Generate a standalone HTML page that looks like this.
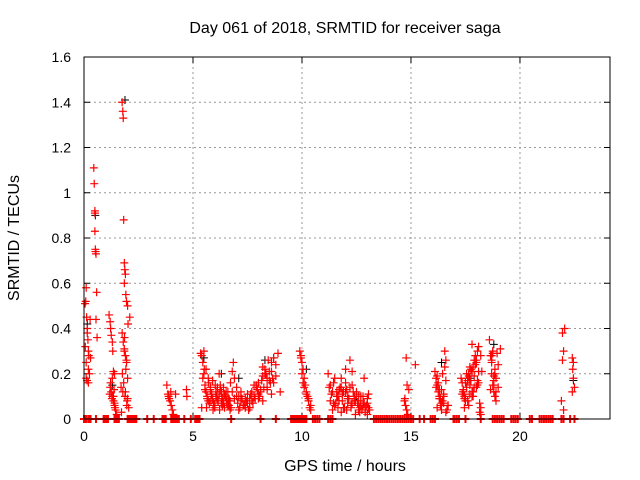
<!DOCTYPE html>
<html><head><meta charset="utf-8"><style>
body{margin:0;background:#fff}
svg{display:block;font-family:"Liberation Sans",sans-serif}
</style></head><body>
<svg id="chart" width="640" height="480" viewBox="0 0 640 480">
<text x="345" y="33" font-size="16" text-anchor="middle">Day 061 of 2018, SRMTID for receiver saga</text>
<text x="345" y="471" font-size="16" text-anchor="middle">GPS time / hours</text>
<text transform="translate(19,238) rotate(-90)" font-size="16" text-anchor="middle">SRMTID / TECUs</text>
<g id="grid"></g><g id="ticks"></g><g id="marks"></g>
<rect x="84" y="57" width="526" height="362" fill="none" stroke="#000" stroke-width="1"/>
</svg>
<script>
const xTicks=[0,5,10,15,20];
const yTicks=[0,0.2,0.4,0.6,0.8,1,1.2,1.4,1.6];
const yTickLabels=["0","0.2","0.4","0.6","0.8","1","1.2","1.4","1.6"];
const redTimes=[0.05,0.08,0.1,0.12,0.15,0.18,0.2,0.22,0.25,0.1,0.14,0.2,0.28,0.06,0.3,
0.45,0.47,0.5,0.5,0.52,0.53,0.55,0.5,0.58,0.55,0.6,
1.15,1.2,1.22,1.25,1.3,1.32,1.35,1.4,1.2,1.25,1.3,1.35,1.4,1.45,1.5,1.18,1.28,1.38,1.22,1.42,
1.75,1.78,1.8,1.82,1.85,1.87,1.9,1.85,1.92,1.95,2.0,2.02,1.75,1.8,1.85,1.9,1.95,2.0,1.7,1.78,1.88,1.98,2.05,1.72,1.82,1.92,2.1,1.76,1.86,1.96,
3.8,3.85,3.9,3.95,4.0,4.05,4.1,3.88,3.98,4.2,4.7,4.72,
5.35,5.4,5.45,5.5,5.55,5.6,5.65,5.7,5.4,5.5,5.6,5.7,5.8,5.85,5.9,5.95,6.0,6.05,6.1,6.15,6.2,6.25,6.3,6.35,6.4,6.45,6.5,6.55,6.6,6.65,6.7,5.8,5.9,6.0,6.1,6.2,6.3,6.4,6.5,6.6,6.7,6.8,6.9,7.0,
6.8,6.85,6.9,7.0,7.1,7.2,7.3,7.4,7.5,7.6,7.7,7.8,7.9,8.0,8.1,8.2,8.3,8.4,8.5,8.6,7.1,7.3,7.5,7.7,7.9,8.1,8.3,8.5,8.7,8.8,8.9,7.2,7.6,8.0,8.4,8.6,8.7,8.2,8.45,8.8,9.0,
9.9,9.95,10.0,10.05,10.1,10.15,10.2,10.25,10.3,10.35,10.4,10.0,10.1,10.2,10.3,10.4,9.95,10.05,
11.2,11.3,11.4,11.5,11.6,11.7,11.8,11.9,12.0,12.1,12.2,12.3,12.4,12.5,12.6,12.7,12.8,12.9,13.0,13.1,11.3,11.5,11.7,11.9,12.1,12.3,12.5,12.7,12.9,11.4,11.6,11.8,12.0,12.2,12.4,12.6,12.8,13.0,11.25,11.45,11.65,11.85,12.05,12.25,12.45,12.65,12.85,13.05,12.0,12.3,11.9,12.6,
14.7,14.75,14.8,14.85,14.9,14.72,14.82,14.78,15.2,
16.1,16.15,16.2,16.25,16.3,16.35,16.4,16.45,16.5,16.55,16.6,16.15,16.25,16.35,16.45,16.55,16.2,16.3,16.4,16.5,16.6,16.65,16.7,
17.3,17.35,17.4,17.45,17.5,17.55,17.6,17.65,17.7,17.75,17.8,17.85,17.9,17.95,18.0,18.05,18.1,18.15,18.2,17.4,17.5,17.6,17.7,17.8,17.9,18.0,18.1,18.2,17.35,17.55,17.75,17.95,18.15,17.45,17.65,17.85,18.05,18.25,17.6,17.8,
18.6,18.65,18.7,18.75,18.8,18.85,18.9,18.7,18.8,18.9,19.0,19.1,18.65,18.75,18.85,18.95,18.7,18.8,
21.9,21.95,22.0,22.05,21.95,22.0,22.4,22.42,22.45,22.5,22.4,22.45,22.5,22.42,22.48];
const redValues=[0.51,0.52,0.58,0.45,0.40,0.35,0.30,0.28,0.20,0.18,0.17,0.16,0.44,0.32,0.27,
1.11,1.04,0.92,0.91,0.75,0.74,0.73,0.83,0.56,0.44,0.36,
0.46,0.43,0.40,0.37,0.34,0.30,0.21,0.20,0.14,0.12,0.10,0.08,0.06,0.04,0.02,0.11,0.09,0.13,0.16,0.05,
1.40,1.36,1.33,0.88,0.69,0.66,0.64,0.60,0.55,0.52,0.50,0.42,0.38,0.34,0.30,0.28,0.25,0.18,0.14,0.12,0.10,0.08,0.05,0.03,0.16,0.22,0.45,0.20,0.36,0.06,
0.15,0.11,0.09,0.08,0.06,0.04,0.02,0.10,0.12,0.11,0.13,0.10,
0.29,0.28,0.25,0.20,0.15,0.12,0.10,0.08,0.05,0.30,0.22,0.18,0.14,0.11,0.09,0.07,0.06,0.12,0.10,0.08,0.20,0.15,0.12,0.09,0.07,0.05,0.10,0.08,0.12,0.06,0.04,0.13,0.17,0.05,0.09,0.11,0.07,0.14,0.10,0.06,0.08,0.12,0.09,0.10,
0.21,0.25,0.18,0.14,0.10,0.08,0.06,0.05,0.07,0.09,0.12,0.10,0.14,0.16,0.12,0.19,0.22,0.18,0.21,0.25,0.04,0.06,0.11,0.08,0.15,0.13,0.20,0.17,0.27,0.24,0.29,0.10,0.05,0.09,0.14,0.11,0.16,0.08,0.26,0.19,0.12,
0.30,0.28,0.25,0.22,0.18,0.15,0.12,0.10,0.08,0.05,0.04,0.20,0.14,0.11,0.09,0.06,0.27,0.16,
0.20,0.15,0.12,0.18,0.10,0.08,0.14,0.12,0.16,0.10,0.26,0.21,0.09,0.12,0.06,0.08,0.10,0.05,0.07,0.04,0.08,0.06,0.13,0.05,0.09,0.07,0.11,0.10,0.03,0.04,0.10,0.03,0.12,0.14,0.08,0.04,0.06,0.09,0.14,0.07,0.05,0.11,0.04,0.06,0.02,0.05,0.18,0.11,0.22,0.15,
0.12,0.10,0.08,0.06,0.04,0.02,0.13,0.09,0.15,
0.27,0.24,0.21,0.18,0.15,0.12,0.10,0.06,0.04,0.08,0.11,0.30,0.26,0.14,0.16,0.09,0.20,0.23,0.05,0.13,0.07,0.10,0.03,
0.04,0.06,0.18,0.16,0.12,0.10,0.08,0.14,0.18,0.20,0.15,0.22,0.12,0.10,0.19,0.24,0.26,0.30,0.32,0.07,0.02,0.13,0.09,0.17,0.11,0.21,0.14,0.25,0.16,0.05,0.11,0.20,0.17,0.28,0.03,0.09,0.06,0.23,0.15,
0.21,0.17,0.33,0.35,0.28,0.26,0.15,0.19,0.10,0.12,0.20,0.15,0.08,0.24,0.31,0.13,0.30,0.22,
0.29,0.28,0.17,0.08,0.26,0.04,0.40,0.38,0.30,0.27,0.22,0.18,0.14,0.12,0.25];
const extraTimes=[5.45,5.55,5.65,5.75,5.85,5.95,6.05,6.15,6.25,6.35,6.45,6.55,6.65,6.75,5.52,5.72,5.92,6.12,6.32,6.52,6.72,5.62,5.82,6.02,6.22,6.42,6.62,
7.05,7.15,7.25,7.35,7.45,7.55,7.65,7.75,7.85,7.95,8.05,8.15,8.25,8.35,8.55,8.65,7.2,7.4,7.6,7.8,8.0,8.2,8.4,8.6,
11.35,11.55,11.75,11.95,12.15,12.35,12.55,12.75,12.95,11.45,11.65,11.85,12.05,12.25,12.45,12.65,12.85,13.05,11.6,11.8,12.1,12.4,12.7,13.0,
16.2,16.3,16.4,16.5,16.6,16.7,17.4,17.5,17.6,17.7,17.8,17.9,18.0,18.1,18.2,17.45,17.65,17.85,18.05,18.7,18.8,18.9,19.0,18.75,18.85,
0.1,0.15,0.2,1.3,1.35,1.4,1.85,1.9,1.95,2.0];
const extraValues=[0.18,0.13,0.09,0.07,0.11,0.06,0.10,0.08,0.13,0.06,0.11,0.07,0.09,0.05,0.22,0.16,0.04,0.14,0.09,0.12,0.16,0.05,0.08,0.15,0.04,0.10,0.08,
0.07,0.05,0.09,0.06,0.08,0.04,0.11,0.07,0.09,0.13,0.10,0.17,0.14,0.20,0.16,0.18,0.12,0.09,0.05,0.15,0.11,0.23,0.13,0.21,
0.11,0.07,0.14,0.05,0.09,0.12,0.07,0.04,0.06,0.16,0.10,0.08,0.13,0.05,0.08,0.03,0.07,0.05,0.12,0.18,0.07,0.10,0.06,0.02,
0.19,0.09,0.13,0.07,0.17,0.06,0.12,0.16,0.08,0.23,0.10,0.26,0.14,0.21,0.28,0.05,0.19,0.12,0.17,0.25,0.12,0.18,0.14,0.29,0.20,
0.25,0.38,0.22,0.18,0.10,0.07,0.31,0.12,0.26,0.09];
const blackTimes=[0.15,0.52,1.88,1.3,5.5,6.3,7.1,8.3,8.7,10.2,11.9,12.5,16.4,17.7,18.8,22.45];
const blackValues=[0.42,0.9,1.41,0.15,0.27,0.2,0.18,0.26,0.27,0.22,0.12,0.1,0.25,0.18,0.33,0.17];
const zeroTimes=[0,0.05,0.1,0.2,0.25,0.3,0.55,0.9,0.95,1.0,1.05,1.1,1.4,1.45,1.5,1.55,1.6,2.0,2.05,2.1,2.15,2.2,2.25,2.3,2.35,2.4,2.9,3.2,3.6,3.65,3.7,3.75,4.0,4.05,4.1,4.15,4.2,4.25,4.3,4.35,4.6,4.9,5.1,5.15,5.2,5.25,5.3,6.75,8.1,8.8,9.5,9.55,9.6,9.65,9.7,9.75,9.8,9.85,9.9,9.95,10.0,10.05,10.1,10.15,10.2,10.5,10.6,10.7,10.8,11.2,11.3,11.4,13.3,13.4,13.5,13.6,13.7,13.8,13.9,14.0,14.1,14.2,14.3,14.4,14.5,14.6,14.7,14.8,14.9,15.0,15.1,15.4,15.6,15.9,16.0,16.1,16.95,17.0,17.1,17.2,17.5,18.2,18.75,18.85,18.95,19.05,19.15,19.25,19.6,19.7,19.8,19.9,20.45,20.55,20.9,21.0,21.1,21.2,21.3,21.4,21.5,21.9,22.0,22.3,22.5];
const X0=84,X1=610,Y0=419,Y1=57,XMAX=24.13,YMAX=1.6;
const sx=t=>X0+t/XMAX*(X1-X0);
const sy=v=>Y0-v/YMAX*(Y0-Y1);
const NS="http://www.w3.org/2000/svg";
const grid=document.getElementById('grid'),ticks=document.getElementById('ticks'),marks=document.getElementById('marks');
function mk(tag,attrs,parent){const e=document.createElementNS(NS,tag);for(const k in attrs)e.setAttribute(k,attrs[k]);parent.appendChild(e);return e;}
xTicks.forEach((t,i)=>{
 const x=sx(t);
 if(t>0){const g=mk('line',{x1:x,x2:x,y1:Y1,y2:Y0,stroke:'#999','stroke-dasharray':'2,3'},grid);
 
 }
 mk('line',{x1:x,x2:x,y1:Y0,y2:Y0-6,stroke:'#000'},ticks);
 mk('line',{x1:x,x2:x,y1:Y1,y2:Y1+6,stroke:'#000'},ticks);
 const l=mk('text',{x:x,y:Y0+22,'font-size':14,'text-anchor':'middle'},ticks);l.textContent=t;
 
 
});
yTicks.forEach((v,i)=>{
 const y=sy(v);
 if(v>0&&v<YMAX){const g=mk('line',{x1:X0,x2:X1,y1:y,y2:y,stroke:'#999','stroke-dasharray':'2,3'},grid);
 
 }
 mk('line',{x1:X0,x2:X0+6,y1:y,y2:y,stroke:'#000'},ticks);
 mk('line',{x1:X1,x2:X1-6,y1:y,y2:y,stroke:'#000'},ticks);
 const l=mk('text',{x:X0-13,y:y+5,'font-size':14,'text-anchor':'end'},ticks);l.textContent=yTickLabels[i];
 
 
});
function plus(t,v,color,name,sw){
 const x=sx(t),y=sy(v);
 const p=mk('path',{d:`M${x-4},${y}h8M${x},${y-4}v8`,stroke:color,'stroke-width':sw,fill:'none'},marks);
 
 
}
blackTimes.forEach((t,i)=>plus(t,blackValues[i],'#000','black-point',1));
redTimes.forEach((t,i)=>plus(t,redValues[i],'#f00','red-point',1.2));
extraTimes.forEach((t,i)=>plus(t,extraValues[i],'#f00','red-point',1.2));
zeroTimes.forEach(t=>plus(t,0,'#f00','zero-point',2));
</script>
</body></html>
